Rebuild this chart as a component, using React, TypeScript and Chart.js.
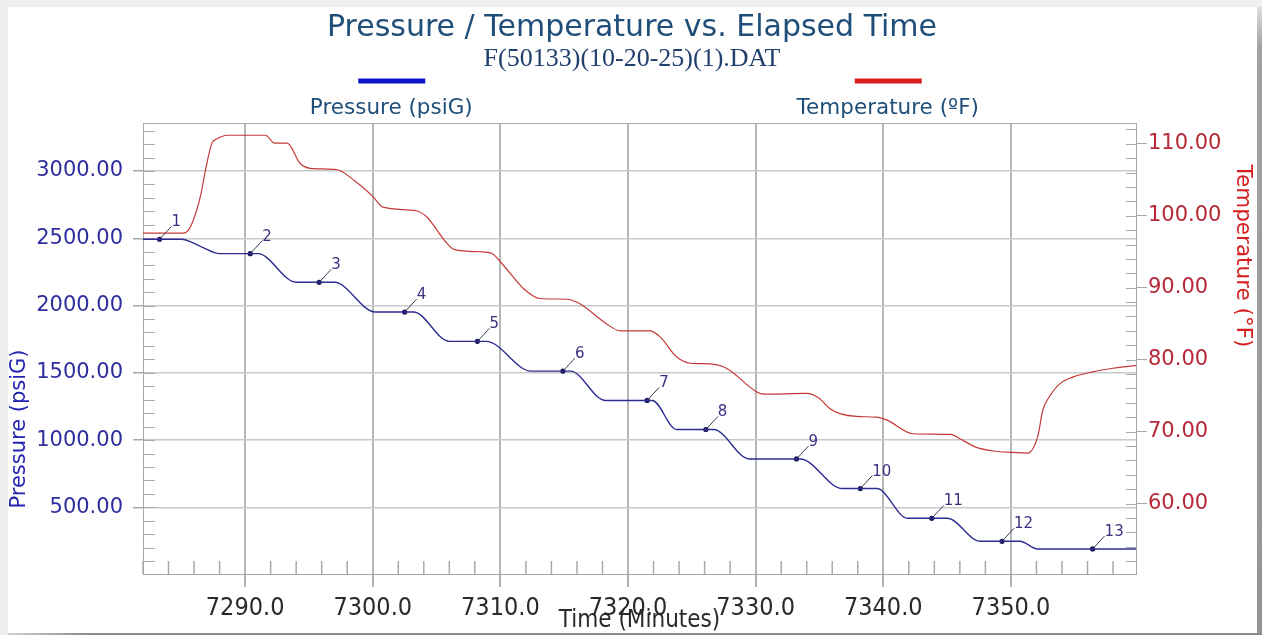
import React, { useEffect, useRef } from "react";
import { Chart, registerables } from "chart.js";

Chart.register(...registerables);

// Pressure trace (elapsed minutes, psiG)
const pressureTimes = [
  7282.0, 7285.0, 7286.5, 7288.0, 7291.0, 7294.0, 7297.0, 7300.2, 7303.2, 7306.0,
  7308.9, 7312.4, 7315.5, 7318.2, 7321.9, 7323.8, 7326.7, 7329.5, 7333.5, 7336.8,
  7339.5, 7341.9, 7345.0, 7347.6, 7350.7, 7352.1, 7359.8,
];
const pressureValues = [
  2493, 2493, 2440, 2386, 2386, 2173, 2173, 1952, 1952, 1734,
  1734, 1513, 1513, 1295, 1295, 1079, 1079, 860, 860, 640,
  640, 419, 419, 248, 248, 191, 191,
];

// Temperature trace (elapsed minutes, °F)
const temperatureTimes = [
  7282.0, 7285.2, 7285.7, 7286.5, 7286.9, 7287.4, 7287.8, 7288.6, 7291.6, 7292.3,
  7293.3, 7294.3, 7295.1, 7297.2, 7298.7, 7300.0, 7300.8, 7303.4, 7304.2, 7305.8,
  7306.4, 7308.4, 7309.3, 7310.1, 7311.8, 7313.1, 7315.2, 7316.2, 7318.3, 7319.4,
  7321.7, 7322.5, 7323.8, 7324.9, 7326.4, 7327.7, 7330.1, 7330.6, 7334.0, 7335.0,
  7335.8, 7336.6, 7337.9, 7339.5, 7340.3, 7342.3, 7345.3, 7346.0, 7347.3, 7348.6,
  7350.2, 7351.3, 7352.1, 7352.5, 7353.0, 7353.8, 7354.9, 7356.4, 7358.0, 7359.8,
];
const temperatureValues = [
  97.6, 97.6, 98.4, 102.7, 106.4, 110.1, 110.7, 111.2, 111.2, 110.1,
  110.1, 107.3, 106.6, 106.4, 104.7, 102.7, 101.2, 100.7, 99.9, 96.2,
  95.3, 95.0, 94.8, 93.4, 89.9, 88.5, 88.4, 87.8, 85.0, 84.0,
  84.0, 83.2, 80.4, 79.5, 79.4, 78.8, 75.5, 75.2, 75.3, 74.6,
  73.2, 72.5, 72.1, 72.0, 71.6, 69.7, 69.6, 69.0, 67.8, 67.3,
  67.1, 67.0, 69.3, 73.0, 74.8, 76.6, 77.6, 78.3, 78.8, 79.2,
];

// Numbered stabilisation points on the pressure trace
const markerTimes = [
  7283.3, 7290.4, 7295.8, 7302.5, 7308.2, 7314.9, 7321.5, 7326.1, 7333.2, 7338.2,
  7343.8, 7349.3, 7356.4,
];
const markerPressures = [
  2493, 2386, 2173, 1952, 1734, 1513, 1295, 1079, 860, 640, 419, 248, 191,
];
const markerLabels = ["1", "2", "3", "4", "5", "6", "7", "8", "9", "10", "11", "12", "13"];

// Labelled tick values on each axis
const timeTicks = [7290, 7300, 7310, 7320, 7330, 7340, 7350];
const pressureTicks = [500, 1000, 1500, 2000, 2500, 3000];
const temperatureTicks = [60, 70, 80, 90, 100, 110];

const titleText = "Pressure / Temperature vs. Elapsed Time";
const subtitleText = "F(50133)(10-20-25)(1).DAT";
const pressureLabel = "Pressure (psiG)";
const temperatureLegend = "Temperature (ºF)";
const temperatureAxisTitle = "Temperature (°F)";
const timeAxisTitle = "Time (Minutes)";

const SANS = "'DejaVu Sans', Verdana, sans-serif";
const NARROW = "'DejaVu Sans Condensed', 'Liberation Sans Narrow', 'DejaVu Sans', sans-serif";

const PRESSURE_COLOR = "#2c2c92";
const TEMP_COLOR = "#c43838";

const fixedTicks = (values: number[]) => (scale: any) => {
  scale.ticks = values.map((v) => ({ value: v }));
};

// Short inside ticks between the labelled ones, plus the top edge of the plot box
const minorTicksPlugin = {
  id: "minorTicks",
  beforeDatasetsDraw(chart: any) {
    const { ctx, chartArea: a, scales } = chart;
    const xs = scales.x;
    const yp = scales.yP;
    const yt = scales.yT;
    ctx.save();
    ctx.strokeStyle = "#a9a9a9";
    ctx.lineWidth = 1.5;
    ctx.beginPath();
    for (let v = Math.ceil(xs.min / 2) * 2; v <= xs.max; v += 2) {
      if (v % 10 === 0) continue;
      const px = xs.getPixelForValue(v);
      ctx.moveTo(px, a.bottom);
      ctx.lineTo(px, a.bottom - 13);
    }
    ctx.stroke();
    ctx.lineWidth = 1;
    ctx.beginPath();
    for (let v = Math.ceil(yp.min / 100) * 100; v <= yp.max; v += 100) {
      const py = Math.round(yp.getPixelForValue(v)) + 0.5;
      ctx.moveTo(a.left, py);
      ctx.lineTo(a.left + 12, py);
    }
    for (let v = Math.ceil(yt.min / 2) * 2; v <= yt.max; v += 2) {
      const py = Math.round(yt.getPixelForValue(v)) + 0.5;
      ctx.moveTo(a.right - 10, py);
      ctx.lineTo(a.right, py);
    }
    ctx.moveTo(a.left, a.top + 0.5);
    ctx.lineTo(a.right, a.top + 0.5);
    ctx.stroke();
    ctx.restore();
  },
};

// Leader lines and numbers next to each marked point
const markerLabelsPlugin = {
  id: "markerLabels",
  afterDatasetsDraw(chart: any) {
    const { ctx } = chart;
    const meta = chart.getDatasetMeta(2);
    ctx.save();
    ctx.strokeStyle = "#3a3a5a";
    ctx.lineWidth = 1;
    ctx.fillStyle = "#3d2f80";
    ctx.font = `15px ${SANS}`;
    ctx.textAlign = "left";
    ctx.textBaseline = "alphabetic";
    meta.data.forEach((pt: any, i: number) => {
      const x = pt.x;
      const y = pt.y;
      ctx.beginPath();
      ctx.moveTo(x + 1, y - 1);
      ctx.lineTo(x + 12, y - 13);
      ctx.stroke();
      ctx.fillText(markerLabels[i], x + 12, y - 13);
    });
    ctx.restore();
  },
};

// Title, file name, legend and the two value-axis titles
const headerPlugin = {
  id: "header",
  afterDraw(chart: any) {
    const { ctx, chartArea: a, width } = chart;
    const cx = width / 2 + 1;
    ctx.save();
    ctx.textAlign = "center";
    ctx.textBaseline = "middle";
    ctx.fillStyle = "#1f4e79";
    ctx.font = `30px ${SANS}`;
    ctx.fillText(titleText, cx, 28);
    ctx.fillStyle = "#22406e";
    ctx.font = `26px 'Liberation Serif', 'Times New Roman', serif`;
    ctx.fillText(subtitleText, cx, 59);

    const w = a.right - a.left;
    const lx1 = a.left + w / 4;
    const lx2 = a.left + (3 * w) / 4;
    ctx.lineWidth = 5;
    ctx.strokeStyle = "#0a14c8";
    ctx.beginPath();
    ctx.moveTo(lx1 - 33, 81);
    ctx.lineTo(lx1 + 34, 81);
    ctx.stroke();
    ctx.strokeStyle = "#dc1e1e";
    ctx.beginPath();
    ctx.moveTo(lx2 - 33, 81);
    ctx.lineTo(lx2 + 34, 81);
    ctx.stroke();
    ctx.fillStyle = "#1f4e79";
    ctx.font = `21.5px ${SANS}`;
    ctx.fillText(pressureLabel, lx1, 108);
    ctx.fillText(temperatureLegend, lx2, 108);

    ctx.font = `21px ${SANS}`;
    ctx.fillStyle = "#2323b4";
    ctx.translate(20, 429);
    ctx.rotate(-Math.PI / 2);
    ctx.fillText(pressureLabel, 0, 0);
    ctx.setTransform(1, 0, 0, 1, 0, 0);
    ctx.font = `21.5px ${SANS}`;
    ctx.fillStyle = "#d42020";
    ctx.translate(1243, 256);
    ctx.rotate(Math.PI / 2);
    ctx.fillText(temperatureAxisTitle, 0, 0);
    ctx.restore();
  },
};

export default function App() {
  const canvasRef = useRef<HTMLCanvasElement | null>(null);

  useEffect(() => {
    const canvas = canvasRef.current;
    if (!canvas) return;
    const chart = new Chart(canvas, {
      type: "line",
      data: {
        datasets: [
          {
            label: "Temperature",
            data: temperatureTimes.map((t, i) => ({ x: t, y: temperatureValues[i] })),
            yAxisID: "yT",
            borderColor: TEMP_COLOR,
            borderWidth: 1.2,
            pointRadius: 0,
            cubicInterpolationMode: "monotone",
            fill: false,
          },
          {
            label: "Pressure",
            data: pressureTimes.map((t, i) => ({ x: t, y: pressureValues[i] })),
            yAxisID: "yP",
            borderColor: PRESSURE_COLOR,
            borderWidth: 1.4,
            pointRadius: 0,
            cubicInterpolationMode: "monotone",
            fill: false,
          },
          {
            label: "Points",
            data: markerTimes.map((t, i) => ({ x: t, y: markerPressures[i] })),
            yAxisID: "yP",
            showLine: false,
            pointRadius: 2.6,
            pointBackgroundColor: "#1c1454",
            pointBorderWidth: 0,
          },
        ],
      },
      options: {
        responsive: false,
        animation: false,
        devicePixelRatio: 1,
        layout: { padding: { top: 123, left: 0, right: 0, bottom: 0 } },
        plugins: {
          legend: { display: false },
          title: { display: false },
          tooltip: { enabled: false },
        },
        scales: {
          x: {
            type: "linear",
            position: "bottom",
            min: 7282,
            max: 7359.8,
            afterBuildTicks: fixedTicks(timeTicks),
            afterFit(scale: any) {
              scale.height = 61;
            },
            ticks: {
              maxRotation: 0,
              autoSkip: false,
              padding: 6,
              color: "#2a2a2a",
              font: { family: NARROW, size: 25 },
              callback: (v: any) => Number(v).toFixed(1),
            },
            grid: {
              color: "#b6b6b6",
              lineWidth: 2,
              tickLength: 13,
              tickColor: "#b0b0b0",
            },
            border: { color: "#a8a8a8", width: 1 },
            title: {
              display: true,
              text: timeAxisTitle,
              color: "#2a2a2a",
              font: { family: NARROW, size: 24 },
              padding: { top: 0, bottom: 0 },
            },
          },
          yP: {
            type: "linear",
            position: "left",
            min: 5,
            max: 3357,
            afterBuildTicks: fixedTicks(pressureTicks),
            afterFit(scale: any) {
              scale.width = 143;
            },
            ticks: {
              padding: 10,
              color: "#2e2e9e",
              font: { family: SANS, size: 21 },
              callback: (v: any) => Number(v).toFixed(2),
            },
            grid: {
              color: "#c9c9c9",
              lineWidth: 1.5,
              tickLength: 10,
              tickColor: "#a8a8a8",
            },
            border: { color: "#a8a8a8", width: 1 },
          },
          yT: {
            type: "linear",
            position: "right",
            min: 50.2,
            max: 112.9,
            afterBuildTicks: fixedTicks(temperatureTicks),
            afterFit(scale: any) {
              scale.width = 126;
            },
            ticks: {
              padding: 1,
              color: "#b8283a",
              font: { family: SANS, size: 21 },
              callback: (v: any) => Number(v).toFixed(2),
            },
            grid: {
              drawOnChartArea: false,
              tickLength: 11,
              tickColor: "#a8a8a8",
            },
            border: { color: "#a8a8a8", width: 1 },
          },
        },
      },
      plugins: [minorTicksPlugin, markerLabelsPlugin, headerPlugin],
    } as any);
    return () => chart.destroy();
  }, []);

  return (
    <div style={{ position: "fixed", inset: 0, background: "#efefef", overflow: "hidden" }}>
      <div
        style={{
          position: "absolute",
          left: 8,
          top: 7,
          width: 1249,
          height: 626,
          background: "#ffffff",
        }}
      />
      <div
        style={{
          position: "absolute",
          left: 1257,
          top: 7,
          width: 5,
          height: 628,
          background: "linear-gradient(#dedede 0px, #a2a2a2 40px, #949494 100%)",
        }}
      />
      <div
        style={{
          position: "absolute",
          left: 8,
          top: 633,
          width: 1254,
          height: 2,
          background: "linear-gradient(90deg, #d0d0d0 0px, #8c8c8c 80px, #8a8a8a 100%)",
        }}
      />
      <canvas
        ref={canvasRef}
        width={1262}
        height={635}
        style={{ position: "absolute", left: 0, top: 0, width: 1262, height: 635 }}
      />
    </div>
  );
}
